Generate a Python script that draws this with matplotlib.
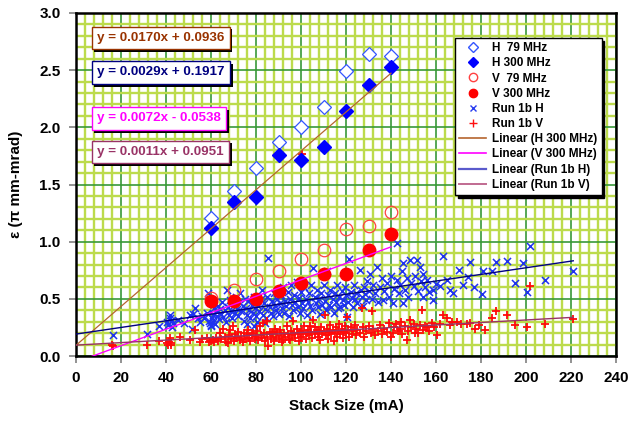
import matplotlib
matplotlib.use("Agg")
import matplotlib.pyplot as plt
from matplotlib.lines import Line2D
from matplotlib.ticker import MultipleLocator
import matplotlib.patheffects as pe

plt.rcParams['font.family'] = ['Liberation Sans', 'DejaVu Sans']
plt.rcParams['font.weight'] = 'bold'
plt.rcParams['axes.labelweight'] = 'bold'

# --- data ---
stack_rf = [60, 70, 80, 90, 100, 110, 120, 130, 140]
h_79 = [1.21, 1.44, 1.64, 1.87, 2.00, 2.18, 2.49, 2.64, 2.62]
h_300 = [1.12, 1.35, 1.39, 1.76, 1.71, 1.83, 2.14, 2.37, 2.53]
v_79 = [0.51, 0.58, 0.67, 0.74, 0.845, 0.93, 1.11, 1.14, 1.26]
v_300 = [0.48, 0.48, 0.50, 0.57, 0.64, 0.72, 0.72, 0.93, 1.07]

run1b_h = [
    (16.6, 0.18), (31.4, 0.19), (37, 0.26), (40.3, 0.30), (41, 0.27), (41.8, 0.33), (41.8, 0.36),
    (42.5, 0.25), (43, 0.29), (42, 0.31), (45.5, 0.315), (48, 0.29), (50.7, 0.36), (51.4, 0.24),
    (52.1, 0.37), (52.9, 0.42), (54, 0.33), (55, 0.30),
    (56, 0.35), (57, 0.33), (58, 0.38), (58.8, 0.55), (59, 0.31), (59.5, 0.29), (60, 0.27),
    (60.2, 0.26), (60.5, 0.33), (60.8, 0.36), (61, 0.30), (61.3, 0.42), (61.6, 0.28), (62, 0.39),
    (62.5, 0.35), (63, 0.44), (63.5, 0.32), (64, 0.41), (64.5, 0.37), (65, 0.47), (65.5, 0.34),
    (66, 0.40), (66.5, 0.30), (67, 0.58), (67.5, 0.43), (68, 0.36), (68.5, 0.49), (69, 0.39),
    (69.5, 0.33), (70, 0.45),
    (70.5, 0.38), (71, 0.52), (71.5, 0.41), (72, 0.35), (72.5, 0.47), (72.9, 0.55), (73.5, 0.39),
    (74, 0.44), (74.5, 0.31), (75, 0.50), (75.5, 0.42), (76, 0.36), (76.5, 0.48), (77, 0.40),
    (77.5, 0.33), (78, 0.45), (78.5, 0.38), (79, 0.52), (79.5, 0.42), (80, 0.35), (80, 0.47),
    (80.5, 0.30), (81, 0.44), (81.5, 0.39), (82, 0.50), (82.5, 0.58), (83, 0.36), (83.5, 0.46),
    (84, 0.41), (84.5, 0.33), (85, 0.52), (85.5, 0.855), (86, 0.43), (86.5, 0.38), (87, 0.48),
    (87.5, 0.35), (88, 0.55), (88.5, 0.44), (89, 0.40), (89.5, 0.50), (90, 0.37),
    (76, 0.28), (79, 0.26), (84, 0.29),
    (90.5, 0.46), (91, 0.53), (91.5, 0.42), (92, 0.60), (92.5, 0.38), (93, 0.48), (93.5, 0.44),
    (94, 0.56), (94.5, 0.35), (95, 0.50), (95.5, 0.62), (96, 0.45), (96.5, 0.40), (97, 0.53),
    (97.5, 0.47), (98, 0.65), (98.5, 0.43), (99, 0.51), (99.5, 0.38), (100, 0.56), (100.5, 0.46),
    (101, 0.42), (101.5, 0.60), (102, 0.50), (102.5, 0.36), (103, 0.47), (103.5, 0.55), (104, 0.44),
    (104.5, 0.62), (105, 0.40), (105.5, 0.77), (106, 0.52), (106.5, 0.46), (107, 0.58), (107.5, 0.43),
    (108, 0.50), (108.5, 0.37), (109, 0.55), (109.5, 0.45), (110, 0.62),
    (110.5, 0.48), (111, 0.40), (111.4, 0.74), (112, 0.53), (112.5, 0.45), (113, 0.58), (113.5, 0.43),
    (114, 0.50), (114.5, 0.38), (115, 0.55), (115.5, 0.47), (116, 0.62), (116.5, 0.42), (117, 0.52),
    (117.3, 0.43), (118, 0.57), (118.5, 0.49), (119, 0.45), (119.5, 0.60), (120, 0.53), (120.3, 0.34),
    (121, 0.47), (121.5, 0.85), (122, 0.56), (122.5, 0.51), (123, 0.43), (123.5, 0.62), (124, 0.50),
    (124.5, 0.55), (125, 0.46), (126, 0.75), (126.5, 0.58), (127, 0.52), (127.5, 0.44), (128, 0.60),
    (128.5, 0.54), (129, 0.49), (129.5, 0.66), (130, 0.57),
    (130.7, 0.72), (131.5, 0.50), (132, 0.62), (133, 0.55), (133.6, 0.78), (134, 0.47), (135, 0.60),
    (136, 0.68), (136.6, 0.49), (137, 0.57), (138, 0.64), (139, 0.52), (140, 0.70), (141, 0.46),
    (141.5, 0.59), (142.5, 0.665), (142.8, 0.99), (143.5, 0.55), (144, 0.62), (145, 0.74),
    (145.5, 0.81), (145.5, 0.46), (146, 0.58), (147, 0.68), (147.5, 0.52), (148.4, 0.84), (149, 0.64),
    (150, 0.61), (150.5, 0.70), (151.4, 0.84), (152, 0.57), (152.9, 0.78), (153.5, 0.66),
    (154.4, 0.72), (154.4, 0.52), (155, 0.60), (155.9, 0.665), (157, 0.56), (158.8, 0.49),
    (158.8, 0.58), (160, 0.63),
    (161.8, 0.61), (163, 0.875), (164.7, 0.665), (166, 0.58), (167.7, 0.55), (170, 0.75), (172, 0.62),
    (174.4, 0.69), (175, 0.82), (177, 0.60), (180.3, 0.54), (180.7, 0.74), (184.8, 0.74),
    (186.7, 0.82), (191.4, 0.83), (195, 0.64), (198.5, 0.81), (200.3, 0.56), (201.8, 0.965),
    (208.4, 0.665), (221, 0.74),
]

run1b_v = [
    (16, 0.096), (16.6, 0.087), (31.4, 0.096), (37, 0.13), (40.3, 0.11), (41, 0.10), (41.5, 0.12),
    (42, 0.11), (42.3, 0.095), (41.8, 0.155), (46.2, 0.17), (50.7, 0.14), (52.9, 0.23), (55.1, 0.125),
    (56, 0.15), (58, 0.155), (59, 0.12), (60, 0.13),
    (61, 0.14), (61.5, 0.12), (62, 0.16), (63, 0.13), (64, 0.20), (64.5, 0.15), (65.5, 0.24),
    (66, 0.17), (66.5, 0.12), (67.6, 0.11), (68, 0.18), (68.4, 0.23), (69, 0.15), (69.9, 0.26),
    (70, 0.13), (70.5, 0.19), (71, 0.16), (72, 0.21), (72.9, 0.14), (73.5, 0.17), (74, 0.12),
    (74.5, 0.20), (75, 0.15), (75.9, 0.18), (76.5, 0.23), (77, 0.16), (77.5, 0.13), (78, 0.19),
    (78.8, 0.20), (79.5, 0.15), (80, 0.17),
    (80.5, 0.22), (81, 0.14), (81.8, 0.26), (82, 0.18), (82.5, 0.16), (83.3, 0.29), (83.5, 0.20),
    (84, 0.13), (84.7, 0.31), (85, 0.17), (85.5, 0.09), (86, 0.21), (86.5, 0.15), (87, 0.19),
    (87.7, 0.20), (88, 0.13), (88.5, 0.24), (89, 0.17), (89.5, 0.21), (90, 0.15), (90.7, 0.23),
    (91, 0.18), (91.5, 0.12), (92.1, 0.14), (92.5, 0.20), (93, 0.17), (93.6, 0.26), (94, 0.19),
    (94.5, 0.15), (95, 0.14), (95.5, 0.22), (96, 0.18), (96.5, 0.31), (97, 0.20), (97.5, 0.16),
    (98, 0.24), (98.5, 0.19), (99, 0.13), (99.6, 0.20), (100, 0.17), (100.3, 1.765),
    (100.5, 0.22), (101, 0.19), (101.5, 0.26), (102, 0.15), (102.5, 0.20), (103, 0.23), (103.5, 0.18),
    (104, 0.26), (104.5, 0.21), (105, 0.16), (105.5, 0.315), (106, 0.19), (106.2, 0.256), (107, 0.23),
    (107.5, 0.17), (108, 0.21), (108.5, 0.14), (109, 0.25), (109.5, 0.19), (110, 0.22), (110.7, 0.36),
    (111, 0.18), (111.5, 0.24), (112, 0.15), (112.5, 0.21), (113, 0.27), (113.5, 0.19), (114, 0.23),
    (114.5, 0.13), (115, 0.20), (115.5, 0.25), (116, 0.17), (116.5, 0.22), (117, 0.28), (117.5, 0.19),
    (118, 0.24), (118.5, 0.16), (119, 0.21), (119.5, 0.26), (120, 0.20), (120.3, 0.34), (121, 0.23),
    (121.5, 0.17), (122, 0.25), (122.5, 0.19), (123, 0.22), (124, 0.27), (124.5, 0.18), (125, 0.23),
    (126, 0.20), (127, 0.42), (127.5, 0.25), (128, 0.17), (129, 0.22), (130, 0.26),
    (131, 0.20), (131.4, 0.39), (132, 0.24), (133, 0.18), (134, 0.22), (135, 0.27), (136, 0.19),
    (137, 0.24), (138, 0.21), (139, 0.29), (140, 0.17), (141, 0.20), (141.5, 0.25), (142, 0.28),
    (143, 0.22), (144, 0.24), (144.5, 0.30), (145, 0.19), (146, 0.26), (146.9, 0.14), (147.5, 0.22),
    (148.4, 0.315), (149, 0.25), (150, 0.28), (150.5, 0.20), (151, 0.24), (152.1, 0.20), (153, 0.27),
    (153.6, 0.40), (154, 0.23), (155, 0.26), (155.9, 0.256), (157, 0.22), (158, 0.29), (159, 0.25),
    (160.3, 0.18),
    (161.8, 0.28), (163.2, 0.36), (164.7, 0.33), (166, 0.27), (167, 0.30), (169.2, 0.30), (171, 0.28),
    (173.6, 0.28), (175, 0.29), (177.3, 0.24), (179, 0.27), (181.8, 0.23), (184.8, 0.33),
    (186.7, 0.39), (191.4, 0.36), (195, 0.27), (200.3, 0.256), (201.8, 0.61), (208.4, 0.28),
    (221, 0.32),
]

# trendlines: slope, intercept, x range (from the equations shown on the chart)
fit_h300 = (0.0170, 0.0936, (0, 140))
fit_v300 = (0.0072, -0.0538, (0, 140))
fit_run_h = (0.0029, 0.1917, (0, 221))
fit_run_v = (0.0011, 0.0951, (0, 221))

c_brown = '#B5652E'
c_navy = '#000080'
c_mag = '#FF00FF'
c_plum = '#993366'

fig = plt.figure(figsize=(6.31, 4.21), dpi=100)
ax = fig.add_axes([76 / 631, 1 - 356 / 421, 540 / 631, 343 / 421])

# grid
ax.set_xlim(0, 240)
ax.set_ylim(0, 3.0)
ax.xaxis.set_major_locator(MultipleLocator(20))
ax.xaxis.set_minor_locator(MultipleLocator(4))
ax.yaxis.set_major_locator(MultipleLocator(0.5))
ax.yaxis.set_minor_locator(MultipleLocator(0.1))
ax.grid(which='minor', color='#BCDB4C', linewidth=1.7, zorder=0)
ax.grid(which='major', color='#389838', linewidth=1.2, zorder=0)
ax.set_axisbelow(True)
ax.tick_params(which='minor', length=0)
ax.tick_params(which='major', direction='out', length=5, width=1.2, color='#808080',
               labelsize=11, pad=6)
for s in ax.spines.values():
    s.set_linewidth(1.8)
    s.set_color('black')
ax.set_yticklabels(['%.1f' % v for v in ax.get_yticks()])

hx = [p[0] for p in run1b_h]
hy = [p[1] for p in run1b_h]
vx = [p[0] for p in run1b_v]
vy = [p[1] for p in run1b_v]

ax.scatter(hx, hy, marker='x', s=26, color='#1F32F0', linewidths=1.1, zorder=3)
ax.scatter(vx, vy, marker='+', s=40, color='#FF0A0A', linewidths=1.3, zorder=3)
ax.plot(stack_rf, h_79, linestyle='none', marker='D', markersize=7, markerfacecolor='white',
        markeredgecolor='#3355FF', markeredgewidth=0.9, zorder=4)
ax.plot(stack_rf, h_300, linestyle='none', marker='D', markersize=7, color='#0000FF', zorder=4)
ax.plot(stack_rf, v_79, linestyle='none', marker='o', markersize=9, markerfacecolor='none',
        markeredgecolor='#FF4040', markeredgewidth=0.9, zorder=4)
ax.plot(stack_rf, v_300, linestyle='none', marker='o', markersize=9, color='#FF0000', zorder=4)

for (m, b, (x0, x1)), col, lw in [(fit_h300, c_brown, 0.9), (fit_v300, c_mag, 1.0),
                                  (fit_run_h, c_navy, 1.0), (fit_run_v, c_plum, 1.0)]:
    ax.plot([x0, x1], [m * x0 + b, m * x1 + b], color=col, linewidth=lw, zorder=5)

ax.set_xlabel('Stack Size (mA)', fontsize=11, labelpad=10)
ax.set_ylabel('ε (π mm-mrad)', fontsize=11, labelpad=12)

# legend
handles = [
    Line2D([], [], linestyle='none', marker='D', markersize=5, markerfacecolor='white',
           markeredgecolor='#3355FF'),
    Line2D([], [], linestyle='none', marker='D', markersize=5, color='#0000FF'),
    Line2D([], [], linestyle='none', marker='o', markersize=6, markerfacecolor='white',
           markeredgecolor='#FF4040'),
    Line2D([], [], linestyle='none', marker='o', markersize=6, color='#FF0000'),
    Line2D([], [], linestyle='none', marker='x', markersize=5, color='#2A3DF0'),
    Line2D([], [], linestyle='none', marker='+', markersize=6, color='#FF1010'),
    Line2D([], [], color=c_brown, linewidth=1.2),
    Line2D([], [], color=c_mag, linewidth=1.2),
    Line2D([], [], color='#5A5ACC', linewidth=1.6),
    Line2D([], [], color='#C06A90', linewidth=1.4),
]
labels = ['H  79 MHz', 'H 300 MHz', 'V  79 MHz', 'V 300 MHz', 'Run 1b H', 'Run 1b V',
          'Linear (H 300 MHz)', 'Linear (V 300 MHz)', 'Linear (Run 1b H)', 'Linear (Run 1b V)']
leg = ax.legend(handles, labels, loc='upper left', bbox_to_anchor=(455 / 631, 1 - 38 / 421),
                bbox_transform=fig.transFigure, frameon=True, fancybox=False,
                shadow={'color': 'black', 'alpha': 1.0}, edgecolor='black', framealpha=1,
                handlelength=2.3, handletextpad=0.5, labelspacing=0.27, borderpad=0.35,
                borderaxespad=0, prop={'weight': 'bold', 'size': 8.5})
leg.get_frame().set_linewidth(1.0)
leg.set_zorder(10)

# trendline equation boxes
eq_texts = ['y = 0.0170x + 0.0936', 'y = 0.0029x + 0.1917',
            'y = 0.0072x - 0.0538', 'y = 0.0011x + 0.0951']
eq_colors = ['#993300', c_navy, c_mag, c_plum]
eq_y = [38, 72.5, 118.5, 152]
for txt, col, yp in zip(eq_texts, eq_colors, eq_y):
    t = fig.text(97 / 631, 1 - yp / 421, txt, color=col, fontsize=9.6, va='center',
                 bbox=dict(boxstyle='square,pad=0.4', facecolor='white', edgecolor=col,
                           linewidth=1.0), zorder=12)
    t.get_bbox_patch().set_path_effects([
        pe.SimplePatchShadow(offset=(2, -2), shadow_rgbFace='black', alpha=1.0), pe.Normal()])

fig.savefig('out.png', dpi=100)
